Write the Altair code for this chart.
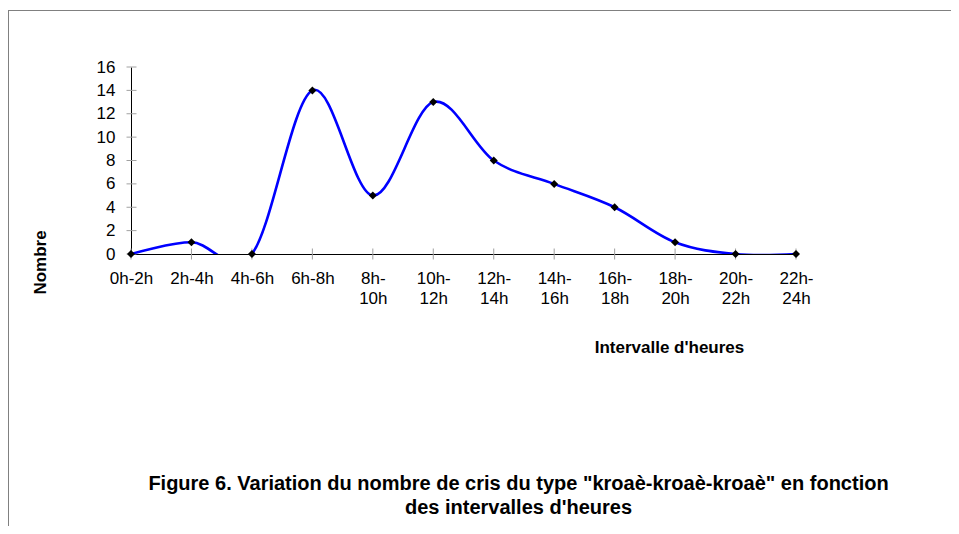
import altair as alt
import pandas as pd

# ---- data ----
intervals = ["0h-2h", "2h-4h", "4h-6h", "6h-8h", "8h-10h", "10h-12h",
             "12h-14h", "14h-16h", "16h-18h", "18h-20h", "20h-22h", "22h-24h"]
counts = [0, 1, 0, 14, 5, 13, 8, 6, 4, 1, 0, 0]
y_ticks = [0, 2, 4, 6, 8, 10, 12, 14, 16]
title_lines = [
    'Figure 6. Variation du nombre de cris du type "kroaè-kroaè-kroaè" en fonction',
    "des intervalles d'heures",
]
x_title = "Intervalle d'heures"
y_title = "Nombre"

df = pd.DataFrame({"intervalle": intervals, "nombre": counts})
ydf = pd.DataFrame({"tick": y_ticks})

FONT = "Liberation Sans"
TICK_GREY = "#a0a0a0"

x_scale = alt.Scale(type="point", padding=0)
y_scale = alt.Scale(domain=[0, 16], nice=False, zero=True)

x_axis = alt.Axis(
    title=x_title,
    labelAngle=0,
    labelExpr="length(datum.label) > 5 ? split(replace(datum.label, '-', '-~'), '~') : datum.label",
    labelFont=FONT,
    labelFontSize=17,
    labelColor="black",
    labelLineHeight=20,
    labelPadding=16,
    labelOverlap=False,
    domainColor="black",
    ticks=False,
    grid=False,
    titleFont=FONT,
    titleFontSize=17,
    titleFontWeight="bold",
    titleColor="black",
    titleX=538,
    titleY=98,
    titleAlign="center",
    titleBaseline="alphabetic",
)

y_axis = alt.Axis(
    title=y_title,
    values=y_ticks,
    labelFont=FONT,
    labelFontSize=17,
    labelColor="black",
    labelPadding=16,
    domainColor="black",
    ticks=False,
    grid=False,
    titleFont=FONT,
    titleFontSize=17,
    titleFontWeight="bold",
    titleColor="black",
    titleX=-86,
    titleY=195,
    titleAlign="center",
    titleBaseline="alphabetic",
)

base = alt.Chart(df)
X_axis = alt.X("intervalle:N", sort=intervals, scale=x_scale, axis=x_axis)
Y_axis = alt.Y("nombre:Q", scale=y_scale, axis=y_axis)

line = base.mark_line(
    interpolate="cardinal", tension=0, color="#0000ff", strokeWidth=2.6, clip=True
).encode(x=X_axis, y=Y_axis)

points = base.mark_point(
    shape="diamond", filled=True, color="black", size=64, opacity=1
).encode(x=X_axis, y=Y_axis)

# tick marks crossing the axis lines (Excel style)
x_ticks = base.transform_calculate(zero="0").mark_tick(
    orient="vertical", size=11, thickness=1, color=TICK_GREY, opacity=1
).encode(
    x=X_axis,
    y=alt.Y("zero:Q", scale=y_scale, axis=y_axis),
)

y_tick_marks = alt.Chart(ydf).mark_tick(
    orient="horizontal", size=10, thickness=1, color=TICK_GREY, opacity=1
).encode(
    x=alt.value(0.5),
    y=alt.Y("tick:Q", scale=y_scale, axis=y_axis),
)

# thin grey frame around the figure (decoration)
frame_top = base.transform_filter(
    alt.datum.intervalle == intervals[0]
).mark_rule(color="#808080", strokeWidth=1).encode(
    x=alt.value(-123), x2=alt.value(820), y=alt.value(-56.5)
)
frame_left = base.transform_filter(
    alt.datum.intervalle == intervals[0]
).mark_rule(color="#808080", strokeWidth=1).encode(
    x=alt.value(-122.5), y=alt.value(-57), y2=alt.value(460)
)

chart = alt.layer(x_ticks, y_tick_marks, line, points, frame_top, frame_left).properties(
    width=665,
    height=187,
    autosize=alt.AutoSizeParams(type="none"),
    padding={"left": 123, "top": 59, "right": 155, "bottom": 272},
    title=alt.Title(
        text=title_lines,
        orient="bottom",
        anchor="middle",
        dx=55,
        offset=-54,
        font=FONT,
        fontSize=20,
        fontWeight="bold",
        color="black",
        lineHeight=24,
    ),
).configure_view(stroke=None)

chart.save("out.html", embed_options={"renderer": "svg", "actions": False})
